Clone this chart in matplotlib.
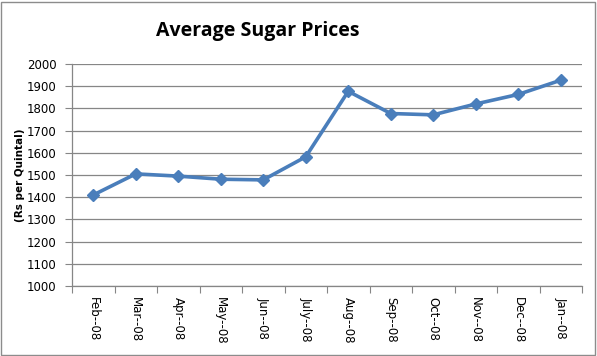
import matplotlib
matplotlib.use("Agg")
import matplotlib.pyplot as plt
from matplotlib.patches import Rectangle

months = ["Feb--08", "Mar--08", "Apr--08", "May--08", "Jun--08", "July--08",
          "Aug--08", "Sep--08", "Oct--08", "Nov--08", "Dec--08", "Jan--08"]
prices = [1410, 1505, 1495, 1481, 1478, 1582, 1877, 1777, 1771, 1820, 1863, 1927]
yticks = list(range(1000, 2001, 100))

W, H = 597, 356
fig = plt.figure(figsize=(W / 100, H / 100), dpi=100)
fig.patch.set_facecolor("white")
fig.patches.append(Rectangle((1 / W, 1 / H), 1 - 3 / W, 1 - 3 / H, transform=fig.transFigure,
                             fill=False, edgecolor="#8c8c8c", linewidth=1))

ax = fig.add_axes([72 / W, 1 - 286 / H, (582 - 72) / W, (286 - 64) / H])
x = list(range(len(months)))
ax.plot(x, prices, color="#4A7EBB", linewidth=2.6, marker="D", markersize=6,
        markerfacecolor="#4A7EBB", markeredgecolor="#4A7EBB", zorder=3)

ax.set_xlim(-0.5, len(months) - 0.5)
ax.set_ylim(1000, 2000)
ax.set_yticks(yticks)
ax.set_yticklabels([str(v) for v in yticks], fontsize=8.5, family="DejaVu Sans")
ax.set_xticks([i - 0.5 for i in range(len(months) + 1)])
ax.set_xticklabels([])
ax.set_xticks(x, minor=True)
ax.set_xticklabels(months, minor=True, rotation=-90, fontsize=8.5, family="DejaVu Sans")
ax.tick_params(axis="x", which="minor", length=0, pad=8)
ax.tick_params(axis="x", which="major", length=5, color="#868686", direction="out")
ax.tick_params(axis="y", length=5, color="#868686", direction="out", pad=6)

ax.grid(axis="y", color="#868686", linewidth=0.9)
ax.set_axisbelow(True)
for s in ["top", "right"]:
    ax.spines[s].set_visible(False)
for s in ["left", "bottom"]:
    ax.spines[s].set_color("#868686")
    ax.spines[s].set_linewidth(0.9)

fig.text(258 / W, 1 - 31 / H, "Average Sugar Prices", ha="center", va="center",
         fontsize=14, fontweight="bold", family="Open Sans")
fig.text(20 / W, 1 - 175 / H, "(Rs per Quintal)", ha="center", va="center",
         rotation=90, fontsize=7.5, fontweight="bold", family="DejaVu Sans")

fig.savefig("out.png", dpi=100)
